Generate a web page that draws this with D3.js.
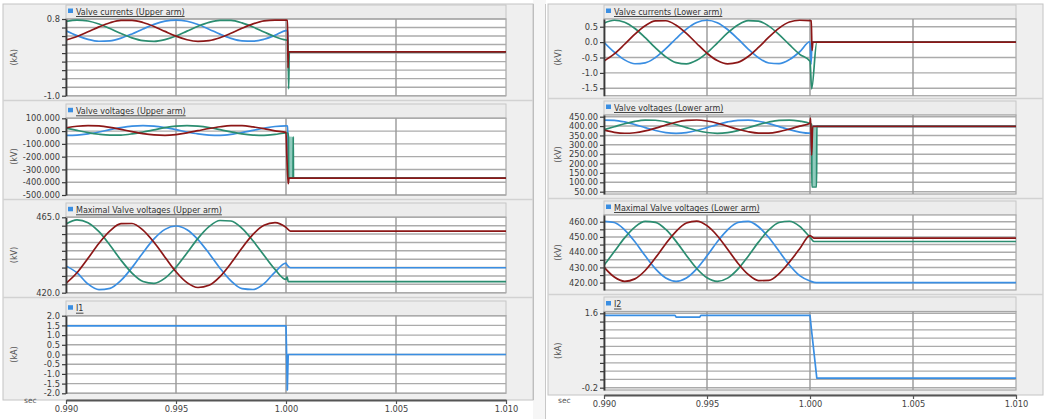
<!DOCTYPE html>
<html><head><meta charset="utf-8">
<script src="https://cdn.jsdelivr.net/npm/d3@7"></script>
<style>
html,body{margin:0;padding:0;background:#fff;}
svg{display:block;}
text{font-family:"DejaVu Sans",sans-serif;}
</style></head><body>
<svg id="c" width="1051" height="419"></svg>
<script>
// ---------------- DATA ----------------
const timeTicks = [0.990, 0.995, 1.000, 1.005, 1.010];
const timeLabels = ["0.990", "0.995", "1.000", "1.005", "1.010"];
const tSteady = [0.9900,0.9905,0.9910,0.9915,0.9920,0.9925,0.9930,0.9935,0.9940,0.9945,0.9950,
                 0.9955,0.9960,0.9965,0.9970,0.9975,0.9980,0.9985,0.9990,0.9995,1.0000];

// Upper arm valve currents (kA)
const ucBlue  = [0.524,0.410,0.322,0.278,0.288,0.350,0.450,0.566,0.674,0.749,0.775,0.747,0.670,0.561,0.445,0.346,0.286,0.279,0.325,0.415,0.529];
const ucBlueTail  = [[1.00008,0.53],[1.0001,0.03],[1.010,0.03]];
const ucGreen = [0.742,0.775,0.753,0.681,0.575,0.458,0.356,0.291,0.276,0.317,0.402,0.515,0.629,0.721,0.770,0.766,0.708,0.611,0.496,0.385,0.307];
const ucGreenTail = [[1.00009,0.30],[1.00012,-0.84],[1.00015,0.03],[1.010,0.03]];
const ucRed   = [0.309,0.390,0.500,0.616,0.712,0.767,0.769,0.718,0.625,0.509,0.398,0.314,0.276,0.293,0.360,0.464,0.581,0.685,0.755,0.774,0.772];
const ucRedTail   = [[1.00007,0.77],[1.00009,-0.35],[1.00011,0.03],[1.010,0.03]];
const ucTicks = [0.8,0.6,0.4,0.2,0.0,-0.2,-0.4,-0.6,-0.8,-1.0];
const ucLabels = ["0.8","","","","","","","","","-1.0"];

// Upper arm valve voltages (kV)
const uvBlue  = [-33,-31,-22,-7,11,27,39,43,39,27,11,-7,-22,-31,-33,-26,-12,5,22,36,41];
const uvBlueTail  = [[1.00008,40],[1.00011,-368],[1.010,-368]];
const uvGreen = [23,6,-12,-25,-32,-31,-22,-7,10,27,39,43,39,28,11,-6,-22,-31,-33,-26,-15];
const uvGreenTail = [[1.00009,-15],[1.00011,-45],[1.00012,-365],[1.00032,-365],[1.00033,-45],[1.00034,-367],[1.010,-367]];
const uvGreenBurst = [[1.00012,-45],[1.00014,-360],[1.00016,-45],[1.00018,-360],[1.00020,-45],[1.00022,-360],
                      [1.00024,-45],[1.00026,-360],[1.00028,-45],[1.00030,-360],[1.00032,-45]];
const uvRed   = [25,38,43,40,29,13,-4,-20,-30,-33,-27,-14,3,20,34,42,42,33,19,2,-10];
const uvRedTail   = [[1.00004,-200],[1.0001,-412],[1.00014,-368],[1.010,-368]];
const uvTicks = [100,0,-100,-200,-300,-400,-500];
const uvLabels = ["100.000","0.000","-100.000","-200.000","-300.000","-400.000","-500.000"];

// Upper arm maximal valve voltages (kV)
const umBlue  = [436.0,431.9,425.2,421.8,422.6,427.3,435.0,443.9,452.1,457.8,459.8,457.6,451.7,443.5,434.6,427.0,422.4,421.9,425.4,432.3,437.6];
const umBlueTail  = [[1.00005,436.5],[1.0002,434.9],[1.010,434.9]];
const umGreen = [461.0,463.5,461.8,456.4,448.3,439.4,431.7,426.7,425.6,428.7,435.2,443.7,452.4,459.4,463.1,462.8,458.4,451.0,442.3,433.9,427.9];
const umGreenTail = [[1.00005,429.5],[1.0001,426.6],[1.010,426.6]];
const umRed   = [425.6,431.9,440.5,449.5,456.9,461.2,461.3,457.4,450.1,441.2,432.5,426.0,423.1,424.4,429.6,437.6,446.7,454.8,460.2,461.8,459.0];
const umRedTail   = [[1.0002,456.8],[1.010,456.8]];
const umTicks = [465,460,455,450,445,440,435,430,425,420];
const umLabels = ["465.0","","","","","","","","","420.0"];

// I1 (kA)
const i1Times = [0.990, 1.0000, 1.00006, 1.0001, 1.010];
const i1Vals  = [1.48, 1.48, -1.83, 0.0, 0.0];
const i1Ticks = [2.0,1.5,1.0,0.5,0.0,-0.5,-1.0,-1.5,-2.0];
const i1Labels = ["2.0","1.5","1.0","0.5","0.0","-0.5","-1.0","-1.5","-2.0"];

// Lower arm valve currents (kA)
const lcBlue  = [-0.004,-0.326,-0.577,-0.702,-0.674,-0.498,-0.214,0.117,0.422,0.636,0.710,0.629,0.410,0.103,-0.228,-0.509,-0.679,-0.699,-0.569,-0.313,0.011];
const lcBlueTail  = [[1.00005,-0.72],[1.0001,0.0],[1.010,0.0]];
const lcGreen = [0.617,0.709,0.647,0.443,0.143,-0.190,-0.480,-0.665,-0.706,-0.591,-0.349,-0.030,0.297,0.557,0.697,0.683,0.519,0.244,-0.084,-0.396,-0.621];
const lcGreenTail = [[1.00008,-1.52],[1.00033,0.0],[1.010,0.0]];
const lcRed   = [-0.613,-0.383,-0.070,0.259,0.531,0.687,0.693,0.548,0.283,-0.045,-0.361,-0.599,-0.707,-0.660,-0.469,-0.174,0.158,0.454,0.652,0.709,0.700];
const lcRedTail   = [[1.00006,0.69],[1.0001,-0.27],[1.00014,0.0],[1.010,0.0]];
const lcTicks = [0.5,0.0,-0.5,-1.0,-1.5];
const lcLabels = ["0.5","0.0","-0.5","-1.0","-1.5"];

// Lower arm valve voltages (kV)
const lvBlue  = [432.0,430.8,422.2,408.0,391.5,376.2,365.4,361.5,365.4,376.2,391.5,408.0,422.2,430.8,432.0,425.6,412.9,396.8,380.7,368.1,361.9];
const lvBlueTail  = [[1.00005,362],[1.0001,192],[1.00014,398],[1.010,398]];
const lvGreen = [380.4,396.4,412.6,425.4,432.0,430.9,422.5,408.4,391.9,376.5,365.6,361.5,365.2,375.8,391.1,407.7,421.9,430.7,432.2,426.1,413.4];
const lvGreenTail = [[1.00007,410],[1.00008,400],[1.00009,75],[1.00032,75],[1.00033,400],[1.00034,398],[1.010,398]];
const lvGreenBurst = [[1.00009,400],[1.00011,80],[1.00013,400],[1.00015,80],[1.00017,400],[1.00019,80],
                      [1.00021,400],[1.00023,80],[1.00025,400],[1.00027,80],[1.00029,400],[1.00031,80],[1.00033,400]];
const lvRed   = [378.2,366.6,361.6,364.3,374.2,389.1,405.7,420.4,430.0,432.4,427.0,415.1,399.2,382.9,369.6,362.4,362.6,370.4,384.0,399.7,415.3];
const lvRedTail   = [[1.00003,442],[1.00008,245],[1.00013,398],[1.010,398]];
const lvTicks = [450,400,350,300,250,200,150,100,50];
const lvLabels = ["450.00","400.00","350.00","300.00","250.00","200.00","150.00","100.00","50.00"];

// Lower arm maximal valve voltages (kV)
const lmBlue  = [460.2,459.5,454.7,446.9,437.6,429.1,423.1,420.9,423.1,429.1,437.6,446.9,454.7,459.5,460.2,456.7,449.6,440.6,431.6,424.6,421.1];
const lmBlueTail  = [[1.0003,420.0],[1.010,420.0]];
const lmGreen = [431.4,440.4,449.4,456.5,460.2,459.6,454.9,447.1,437.9,429.3,423.2,420.9,423.0,428.9,437.4,446.6,454.6,459.5,460.3,456.9,449.8];
const lmGreenTail = [[1.0002,447.0],[1.010,447.0]];
const lmRed   = [430.2,423.7,420.9,422.5,428.0,436.3,445.6,453.7,459.1,460.4,457.4,450.8,441.9,432.8,425.4,421.4,421.5,425.9,433.5,442.2,450.9];
const lmRedTail   = [[1.0002,449.2],[1.010,449.2]];
const lmTicks = [460,455,450,445,440,435,430,425,420];
const lmLabels = ["460.00","","450.00","","440.00","","430.00","","420.00"];

// I2 (kA)
const i2Times = [0.990, 0.99345, 0.9935, 0.99465, 0.9947, 1.0000, 1.00005, 1.00033, 1.010];
const i2Vals  = [1.55, 1.55, 1.51, 1.51, 1.55, 1.55, 1.30, 0.03, 0.03];
const i2Ticks = [1.6,1.4,1.2,1.0,0.8,0.6,0.4,0.2,0.0,-0.2];
const i2Labels = ["1.6","","","","","","","","","-0.2"];

// ---------------- LAYOUT / STYLE ----------------
const C = {blue:"#3a8ee2", green:"#2b8d70", red:"#8c1717", lightGreen:"#8fcbbd"};
const svg = d3.select("#c");

const cols = {
  L:{x0:66, x1:506, fx:3, fw:530, fy:4, fh:396, axisY:400, labY:410.5, secX:24, secY:403, unitX:14},
  R:{x0:604, x1:1016, fx:548, fw:495, fy:4, fh:391, axisY:395, labY:407.5, secX:558, secY:403, unitX:558}
};

function pts(v, tail){ return tSteady.map((t,i)=>[t,v[i]]).concat(tail); }
function zipT(ts, vs){ return ts.map((t,i)=>[t,vs[i]]); }

const panels = [
  {col:"L", top:5, y0:19, y1:95.7, dom:[-1.0,0.8], ticks:ucTicks, labels:ucLabels, title:"Valve currents (Upper arm)", unit:"(kA)",
   series:[[pts(ucBlue,ucBlueTail),C.blue],[pts(ucGreen,ucGreenTail),C.green],[pts(ucRed,ucRedTail),C.red]]},
  {col:"L", top:104, y0:118.3, y1:195, dom:[-500,100], ticks:uvTicks, labels:uvLabels, title:"Valve voltages (Upper arm)", unit:"(kV)",
   series:[[pts(uvBlue,uvBlueTail),C.blue],[uvGreenBurst,C.lightGreen,1.0],[pts(uvGreen,uvGreenTail),C.green],[pts(uvRed,uvRedTail),C.red]]},
  {col:"L", top:203, y0:217.3, y1:292.7, dom:[420,465], ticks:umTicks, labels:umLabels, title:"Maximal Valve voltages (Upper arm)", unit:"(kV)",
   series:[[pts(umBlue,umBlueTail),C.blue],[pts(umGreen,umGreenTail),C.green],[pts(umRed,umRedTail),C.red]]},
  {col:"L", top:301, y0:315.7, y1:393.3, dom:[-2,2], ticks:i1Ticks, labels:i1Labels, title:"I1", unit:"(kA)", linear:true,
   series:[[zipT(i1Times,i1Vals),C.blue]]},
  {col:"R", top:5, y0:19, y1:95.7, dom:[-1.74,0.75], ticks:lcTicks, labels:lcLabels, title:"Valve currents (Lower arm)", unit:"(kV)",
   series:[[pts(lcBlue,lcBlueTail),C.blue],[pts(lcGreen,lcGreenTail),C.green],[pts(lcRed,lcRedTail),C.red]]},
  {col:"R", top:101, y0:115, y1:194, dom:[37.7,459], ticks:lvTicks, labels:lvLabels, title:"Valve voltages (Lower arm)", unit:"(kV)",
   series:[[pts(lvBlue,lvBlueTail),C.blue],[lvGreenBurst,C.lightGreen,1.0],[pts(lvGreen,lvGreenTail),C.green],[pts(lvRed,lvRedTail),C.red]]},
  {col:"R", top:201, y0:215, y1:290, dom:[415.2,464.4], ticks:lmTicks, labels:lmLabels, title:"Maximal Valve voltages (Lower arm)", unit:"(kV)",
   series:[[pts(lmBlue,lmBlueTail),C.blue],[pts(lmGreen,lmGreenTail),C.green],[pts(lmRed,lmRedTail),C.red]]},
  {col:"R", top:297, y0:311.5, y1:390, dom:[-0.256,1.644], ticks:i2Ticks, labels:i2Labels, title:"I2", unit:"(kA)", linear:true,
   series:[[zipT(i2Times,i2Vals),C.blue]]}
];

// column frames
svg.append("rect").attr("x",533).attr("y",0).attr("width",13).attr("height",419).attr("fill","#f6f6f6");
svg.append("line").attr("x1",533.5).attr("x2",533.5).attr("y1",4).attr("y2",400).attr("stroke","#b8b8b8");
svg.append("line").attr("x1",545.5).attr("x2",545.5).attr("y1",4).attr("y2",419).attr("stroke","#c8c8c8");
Object.values(cols).forEach(c=>{
  svg.append("rect").attr("x",c.fx).attr("y",c.fy).attr("width",c.fw).attr("height",c.fh)
    .attr("fill","#efefef").attr("stroke","#c4c4c4").attr("stroke-width",1);
});

let clipId = 0;
panels.forEach((p,pi)=>{
  const c = cols[p.col];
  const x = d3.scaleLinear().domain([0.990,1.010]).range([c.x0,c.x1]);
  const y = d3.scaleLinear().domain(p.dom).range([p.y1,p.y0]);
  const g = svg.append("g");

  if(pi%4!==3){
    const nextTop = panels[pi+1].top;
    const sy = Math.round((p.y1+nextTop)/2)+0.5;
    g.append("line").attr("x1",c.fx).attr("x2",c.fx+c.fw).attr("y1",sy).attr("y2",sy)
      .attr("stroke","#d2d2d2").attr("stroke-width",1.5);
  }
  g.append("rect").attr("x",c.x0).attr("y",p.top).attr("width",c.x1-c.x0).attr("height",p.y0-p.top)
    .attr("fill","#ececec").attr("stroke","#c6c6c6");
  g.append("rect").attr("x",c.x0).attr("y",p.y0).attr("width",c.x1-c.x0).attr("height",p.y1-p.y0)
    .attr("fill","#fff").attr("stroke","#a6a6a6").attr("stroke-width",1.2);

  g.selectAll(".hg").data(p.ticks).join("line")
    .attr("x1",c.x0).attr("x2",c.x1).attr("y1",d=>y(d)).attr("y2",d=>y(d))
    .attr("stroke","#ababab").attr("stroke-width",1.4);
  g.selectAll(".vg").data(timeTicks.slice(1,4)).join("line")
    .attr("x1",d=>x(d)).attr("x2",d=>x(d)).attr("y1",p.y0).attr("y2",p.y1)
    .attr("stroke","#999").attr("stroke-width",1.4);

  const id = "clip"+(clipId++);
  svg.append("clipPath").attr("id",id).append("rect")
    .attr("x",c.x0).attr("y",p.y0-1).attr("width",c.x1-c.x0).attr("height",p.y1-p.y0+2);

  const line = d3.line().x(d=>x(d[0])).y(d=>y(d[1]))
    .curve(p.linear ? d3.curveLinear : d3.curveMonotoneX);
  const sg = g.append("g").attr("clip-path",`url(#${id})`);
  p.series.forEach(([data,color,w])=>{
    sg.append("path").attr("d",line(data)).attr("fill","none").attr("stroke",color)
      .attr("stroke-width",w||1.7).attr("stroke-linejoin","round");
  });

  const ax = g.append("g").attr("transform",`translate(${c.x0},0)`)
    .call(d3.axisLeft(y).tickValues(p.ticks).tickFormat((d,i)=>p.labels[i]).tickSize(4).tickSizeOuter(0).tickPadding(2));
  ax.select(".domain").attr("stroke","#3a3a3a").attr("stroke-width",1.8);
  ax.selectAll(".tick line").attr("stroke","#3a3a3a").attr("stroke-width",1.2);
  ax.selectAll(".tick text").attr("fill","#3c3c3c").style("font-size","8.3px").style("font-family","DejaVu Sans");

  g.append("text").attr("transform",`translate(${c.unitX+3},${(p.y0+p.y1)/2}) rotate(-90)`)
    .attr("text-anchor","middle").attr("fill","#555").style("font-size","8px").text(p.unit);

  g.append("rect").attr("x",c.x0+2).attr("y",p.y0-10.5).attr("width",5).attr("height",4.5).attr("fill",C.blue);
  const tt = g.append("text").attr("x",c.x0+10).attr("y",p.y0-4.5).attr("fill","#333")
    .style("font-size","8px").text(p.title);
  const tw = tt.node().getComputedTextLength();
  g.append("line").attr("x1",c.x0+10).attr("x2",c.x0+10+tw).attr("y1",p.y0-2.5).attr("y2",p.y0-2.5)
    .attr("stroke","#333").attr("stroke-width",0.9);
});

Object.values(cols).forEach(c=>{
  const x = d3.scaleLinear().domain([0.990,1.010]).range([c.x0,c.x1]);
  const ax = svg.append("g").attr("transform",`translate(0,${c.axisY})`)
    .call(d3.axisBottom(x).tickValues(timeTicks).tickFormat((d,i)=>timeLabels[i]).tickSize(4).tickSizeOuter(0).tickPadding(2));
  ax.select(".domain").attr("stroke","#555").attr("stroke-width",2);
  ax.selectAll(".tick line").attr("stroke","#555").attr("stroke-width",1.2);
  ax.selectAll(".tick text").attr("fill","#444").style("font-size","8.3px").style("font-family","DejaVu Sans");
  svg.append("text").attr("x",c.secX).attr("y",c.secY).attr("fill","#555").style("font-size","7.5px").text("sec");
});
</script>
</body></html>
